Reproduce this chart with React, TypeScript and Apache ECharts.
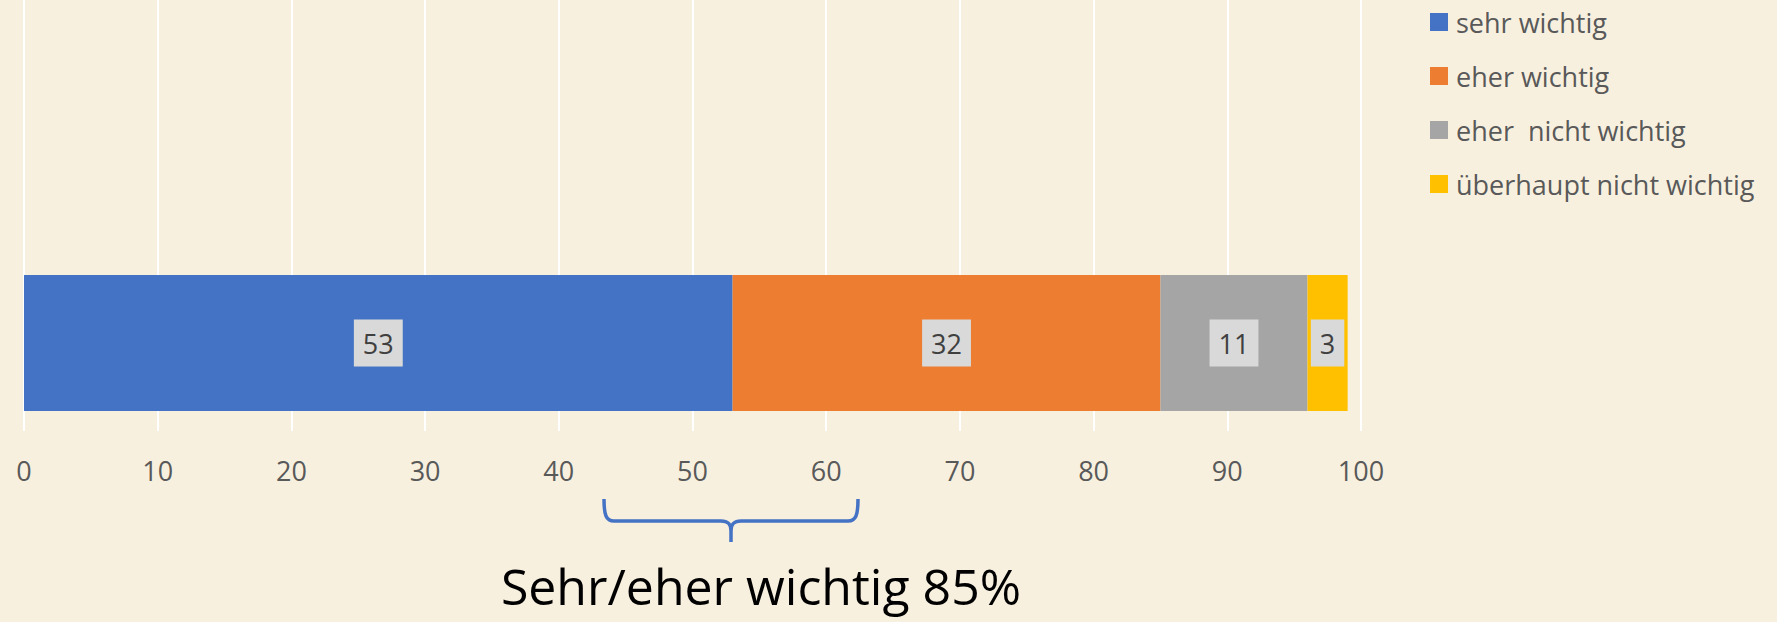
import React, { useEffect, useRef } from "react";
import * as echarts from "echarts";

const categories = ["Wichtigkeit"];
const seriesNames = ["sehr wichtig", "eher wichtig", "eher  nicht wichtig", "überhaupt nicht wichtig"];
const seriesValues = [53, 32, 11, 3];
const seriesColors = ["#4472C4", "#ED7D31", "#A5A5A5", "#FFC000"];
const xMin = 0;
const xMax = 100;
const xInterval = 10;
const summaryText = "Sehr/eher wichtig 85%";

const FONT = "'Open Sans', sans-serif";

const bracePath =
  "M604,499 C604,515 606,521 614,521 L721,521 C728,521 731,524 731,531 L731,542 M731,531 C731,524 734,521 741,521 L848,521 C856,521 858,515 858,499";

export default function App() {
  const ref = useRef<HTMLDivElement>(null);
  useEffect(() => {
    document.body.style.margin = "0";
    if (!ref.current) return;
    try {
      echarts.graphic.registerShape("brace", echarts.graphic.extendPath(bracePath, {}));
    } catch (e) {}
    const chart = echarts.init(ref.current, undefined, { renderer: "svg" });
    const series = seriesNames.map((name, i) => ({
      name,
      type: "bar",
      stack: "total",
      xAxisIndex: 0,
      yAxisIndex: 0,
      barWidth: 136,
      itemStyle: { color: seriesColors[i] },
      label: {
        show: true,
        position: "inside",
        color: "#404040",
        fontFamily: FONT,
        fontSize: 27,
        lineHeight: 28,
        backgroundColor: "#D9D9D9",
        padding: [10, 9, 9, 9],
      },
      data: [seriesValues[i]],
    }));
    chart.setOption({
      animation: false,
      backgroundColor: "#F8F0DF",
      textStyle: { fontFamily: FONT },
      legend: {
        orient: "vertical",
        left: 1425,
        top: 3,
        itemWidth: 18,
        itemHeight: 18,
        itemGap: 26,
        icon: "rect",
        data: seriesNames,
        textStyle: {
          color: "#595959",
          fontSize: 27,
          lineHeight: 28,
          fontFamily: FONT,
          padding: [0, 0, 0, 3],
        },
      },
      grid: [
        { left: 24, right: 416, top: 255, bottom: 191, containLabel: false },
        { left: 24, right: 416, top: 0, height: 255, containLabel: false },
      ],
      xAxis: [
        {
          type: "value",
          gridIndex: 0,
          min: xMin,
          max: xMax,
          interval: xInterval,
          axisLine: { show: false },
          axisTick: { show: false },
          axisLabel: { color: "#595959", fontSize: 27, fontFamily: FONT, margin: 26 },
          splitLine: { show: true, lineStyle: { color: "#FFFFFF", width: 2 } },
        },
        {
          type: "value",
          gridIndex: 1,
          min: xMin,
          max: xMax,
          interval: xInterval,
          axisLine: { show: false },
          axisTick: { show: false },
          axisLabel: { show: false },
          splitLine: { show: true, lineStyle: { color: "#FFFFFF", width: 2 } },
        },
      ],
      yAxis: [
        {
          type: "category",
          gridIndex: 0,
          data: categories,
          axisLine: { show: false },
          axisTick: { show: false },
          axisLabel: { show: false },
        },
        {
          type: "category",
          gridIndex: 1,
          data: categories,
          axisLine: { show: false },
          axisTick: { show: false },
          axisLabel: { show: false },
        },
      ],
      series,
      graphic: [
        {
          type: "brace",
          x: 0,
          y: 0,
          style: { fill: "none", stroke: "#4472C4", lineWidth: 3.5 },
        },
        {
          type: "text",
          x: 761,
          y: 586,
          style: {
            text: summaryText,
            fill: "#000000",
            fontSize: 50,
            lineHeight: 44,
            fontFamily: FONT,
            align: "center",
            verticalAlign: "middle",
          },
        },
      ],
    });
    return () => chart.dispose();
  }, []);
  return <div ref={ref} style={{ width: 1777, height: 622 }} />;
}
